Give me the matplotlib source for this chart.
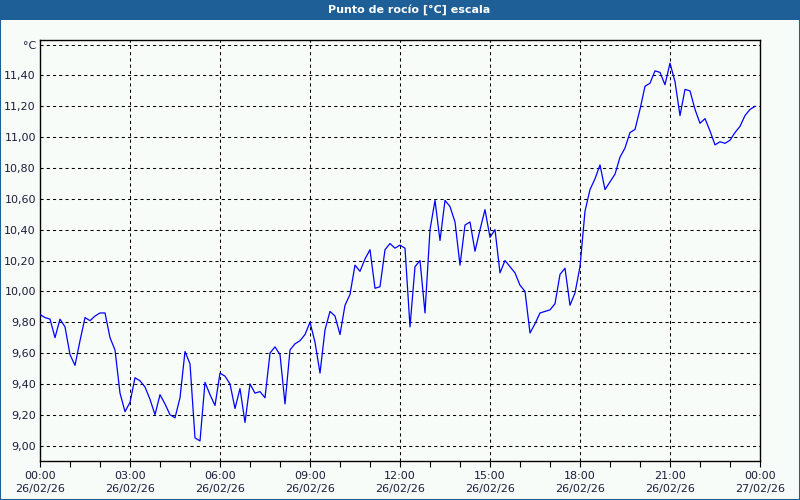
import numpy as np
import matplotlib.pyplot as plt
from matplotlib.patches import Rectangle

# dew point readings every 10 minutes, 26/02/26 00:00 .. 23:50
dew = [9.85, 9.83, 9.82, 9.70, 9.82, 9.77, 9.59, 9.52, 9.68, 9.83,
       9.81, 9.84, 9.86, 9.86, 9.70, 9.62, 9.34, 9.22, 9.28, 9.44,
       9.42, 9.38, 9.30, 9.20, 9.33, 9.27, 9.20, 9.18, 9.31, 9.61,
       9.53, 9.05, 9.03, 9.41, 9.33, 9.26, 9.47, 9.45, 9.40, 9.24,
       9.37, 9.15, 9.40, 9.34, 9.35, 9.31, 9.60, 9.64, 9.59, 9.27,
       9.62, 9.66, 9.68, 9.72, 9.80, 9.67, 9.47, 9.75, 9.87, 9.84,
       9.72, 9.91, 9.98, 10.17, 10.13, 10.21, 10.27, 10.02, 10.03, 10.27,
       10.31, 10.28, 10.30, 10.28, 9.77, 10.16, 10.20, 9.86, 10.40, 10.59,
       10.33, 10.59, 10.55, 10.45, 10.17, 10.43, 10.45, 10.26, 10.40, 10.53,
       10.35, 10.40, 10.12, 10.20, 10.16, 10.12, 10.04, 10.00, 9.73, 9.79,
       9.86, 9.87, 9.88, 9.92, 10.11, 10.15, 9.91, 9.99, 10.16, 10.52,
       10.66, 10.73, 10.82, 10.66, 10.71, 10.76, 10.87, 10.93, 11.03, 11.05,
       11.18, 11.33, 11.35, 11.43, 11.42, 11.34, 11.48, 11.36, 11.14, 11.31,
       11.30, 11.18, 11.09, 11.12, 11.04, 10.95, 10.97, 10.96, 10.98, 11.03,
       11.07, 11.14, 11.18, 11.20]
hours = np.arange(len(dew)) / 6.0

xticks = [0, 3, 6, 9, 12, 15, 18, 21, 24]
xlabels = ["00:00\n26/02/26", "03:00\n26/02/26", "06:00\n26/02/26",
           "09:00\n26/02/26", "12:00\n26/02/26", "15:00\n26/02/26",
           "18:00\n26/02/26", "21:00\n26/02/26", "00:00\n27/02/26"]
yticks = [9.0, 9.2, 9.4, 9.6, 9.8, 10.0, 10.2, 10.4, 10.6, 10.8, 11.0, 11.2, 11.4, 11.6]
ylabels = ["9,00", "9,20", "9,40", "9,60", "9,80", "10,00", "10,20", "10,40",
           "10,60", "10,80", "11,00", "11,20", "11,40", "°C"]

bg = "#f8fcf8"
bar = "#1f5f97"
txt = "#1c1c3c"

fig = plt.figure(figsize=(8, 5), dpi=100, facecolor=bg)

# title bar and frame
fig.patches.append(Rectangle((0, 0.96), 1, 0.04, transform=fig.transFigure,
                             facecolor=bar, edgecolor="none", zorder=0))
fig.patches.append(Rectangle((0.0006, 0.001), 0.9988, 0.998, transform=fig.transFigure,
                             facecolor="none", edgecolor=bar, lw=1.5, zorder=5))
fig.text(0.511, 0.98, "Punto de rocío [°C] escala", color="white", fontsize=8,
         fontweight="bold", ha="center", va="center")

ax = fig.add_axes([0.05, 0.078, 0.90, 0.842])
ax.set_facecolor(bg)
ax.plot(hours, dew, color="#0000ff", lw=0.9, zorder=3)

ax.set_xlim(0, 24)
ax.set_ylim(8.90, 11.63)
ax.set_xticks(xticks)
ax.set_xticklabels(xlabels, fontsize=8, color=txt, linespacing=1.45)
ax.set_xticks(np.arange(0, 25, 1), minor=True)
ax.set_yticks(yticks)
ax.set_yticklabels(ylabels, fontsize=8, color=txt)
ax.tick_params(axis="x", which="both", direction="out", length=4, width=0.8,
               color="black", pad=3)
ax.tick_params(axis="y", length=0, pad=3)

ax.grid(True, which="major", color="black", lw=0.75, linestyle=(0, (3, 3)))
for s in ax.spines.values():
    s.set_color("black")
    s.set_linewidth(1.0)

plt.savefig("out.png", dpi=100, facecolor=bg)
